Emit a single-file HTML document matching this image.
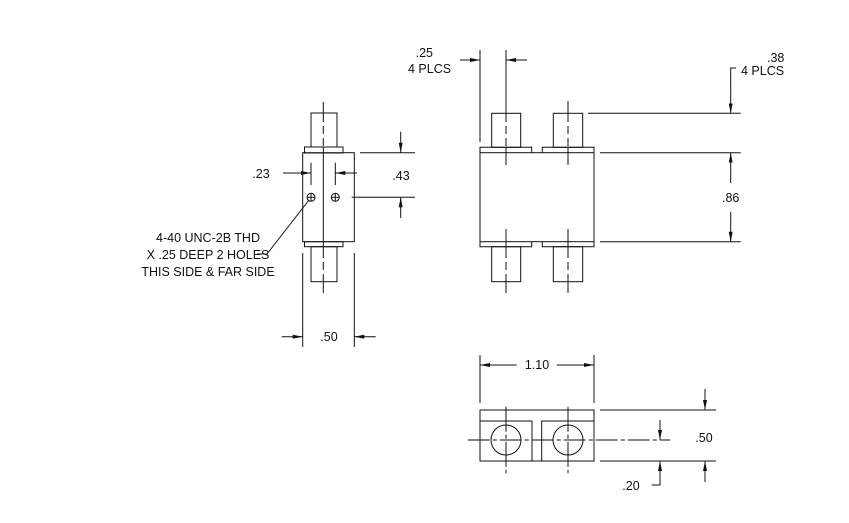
<!DOCTYPE html>
<html><head><meta charset="utf-8"><style>
html,body{margin:0;padding:0;background:#fff;}
svg{display:block}
text{font-family:"Liberation Sans","DejaVu Sans",sans-serif;font-size:12.5px;fill:#111;}
</style></head><body>
<svg width="849" height="523" viewBox="0 0 849 523" xmlns="http://www.w3.org/2000/svg">
<defs>
<marker id="a" viewBox="0 0 10 4" refX="10" refY="2" markerWidth="10" markerHeight="4" markerUnits="userSpaceOnUse" orient="auto"><path d="M0,0 L10,2 L0,4 z" fill="#111"/></marker>
</defs>
<g stroke="#111" stroke-width="1" fill="none">
<!-- LEFT VIEW -->
<rect x="311" y="113" width="26" height="34"/>
<rect x="304.5" y="147" width="38.5" height="6"/>
<rect x="302.7" y="152.7" width="51.6" height="89"/>
<rect x="304.5" y="241.7" width="38.5" height="5"/>
<rect x="311" y="246.7" width="26" height="35"/>
<line x1="323.3" y1="102" x2="323.3" y2="114"/>
<line x1="323.3" y1="114" x2="323.3" y2="147" stroke-dasharray="8,4"/>
<line x1="323.3" y1="147" x2="323.3" y2="250"/>
<line x1="323.3" y1="250" x2="323.3" y2="281" stroke-dasharray="8,4"/>
<line x1="323.3" y1="281" x2="323.3" y2="293"/>
<circle cx="311" cy="197.3" r="4"/><line x1="307" y1="197.3" x2="315" y2="197.3"/><line x1="311" y1="193.3" x2="311" y2="201.3"/>
<circle cx="335.3" cy="197.3" r="4"/><line x1="331.3" y1="197.3" x2="339.3" y2="197.3"/><line x1="335.3" y1="193.3" x2="335.3" y2="201.3"/>
<!-- .23 -->
<line x1="311" y1="162.7" x2="311" y2="185"/>
<line x1="335.3" y1="162.7" x2="335.3" y2="185"/>
<line x1="283" y1="173" x2="311" y2="173" marker-end="url(#a)"/>
<line x1="357" y1="173" x2="335.3" y2="173" marker-end="url(#a)"/>
<!-- .43 -->
<line x1="360" y1="152.7" x2="415" y2="152.7"/>
<line x1="351.7" y1="197.3" x2="415" y2="197.3"/>
<line x1="400.7" y1="131.7" x2="400.7" y2="152.7" marker-end="url(#a)"/>
<line x1="400.7" y1="218" x2="400.7" y2="197.3" marker-end="url(#a)"/>
<!-- .50 -->
<line x1="302.7" y1="253" x2="302.7" y2="347"/>
<line x1="354.3" y1="253" x2="354.3" y2="347"/>
<line x1="281.7" y1="336.7" x2="302.7" y2="336.7" marker-end="url(#a)"/>
<line x1="375.7" y1="336.7" x2="354.3" y2="336.7" marker-end="url(#a)"/>
<!-- leader -->
<polyline points="257,254 267,254 309,200"/>

<!-- FRONT VIEW -->
<rect x="480" y="152.7" width="114" height="89"/>
<polyline points="480,152.7 480,147.3 531.7,147.3 531.7,152.7"/>
<polyline points="542.3,152.7 542.3,147.3 594,147.3 594,152.7"/>
<polyline points="480,241.7 480,246.7 531.7,246.7 531.7,241.7"/>
<polyline points="542.3,241.7 542.3,246.7 594,246.7 594,241.7"/>
<rect x="491.7" y="113.3" width="29" height="34"/>
<rect x="553.3" y="113.3" width="29.4" height="34"/>
<rect x="491.7" y="246.7" width="29" height="35"/>
<rect x="553.3" y="246.7" width="29.4" height="35"/>
<line x1="506" y1="50" x2="506" y2="114"/>
<line x1="506" y1="114" x2="506" y2="147" stroke-dasharray="8,4"/>
<line x1="506" y1="147" x2="506" y2="165"/>
<line x1="506" y1="229" x2="506" y2="250"/>
<line x1="506" y1="250" x2="506" y2="281" stroke-dasharray="8,4"/>
<line x1="506" y1="281" x2="506" y2="293"/>
<line x1="568" y1="101" x2="568" y2="114"/>
<line x1="568" y1="114" x2="568" y2="147" stroke-dasharray="8,4"/>
<line x1="568" y1="147" x2="568" y2="165"/>
<line x1="568" y1="229" x2="568" y2="250"/>
<line x1="568" y1="250" x2="568" y2="281" stroke-dasharray="8,4"/>
<line x1="568" y1="281" x2="568" y2="293"/>
<!-- .25 -->
<line x1="480" y1="50" x2="480" y2="142"/>
<line x1="460" y1="60" x2="480" y2="60" marker-end="url(#a)"/>
<line x1="527" y1="60" x2="506" y2="60" marker-end="url(#a)"/>
<!-- .38 / .86 -->
<line x1="588" y1="113.3" x2="740.7" y2="113.3"/>
<line x1="600" y1="152.7" x2="740.7" y2="152.7"/>
<line x1="600" y1="241.7" x2="740.7" y2="241.7"/>
<polyline points="736,68 730.7,68 730.7,85"/>
<line x1="730.7" y1="85" x2="730.7" y2="113.3" marker-end="url(#a)"/>
<line x1="730.7" y1="183" x2="730.7" y2="152.7" marker-end="url(#a)"/>
<line x1="730.7" y1="212" x2="730.7" y2="241.7" marker-end="url(#a)"/>

<!-- BOTTOM VIEW -->
<rect x="480" y="410" width="114" height="51"/>
<polyline points="480,421 532,421 532,461"/>
<polyline points="541.7,461 541.7,421 594,421"/>
<circle cx="506" cy="440" r="15"/>
<circle cx="568" cy="440" r="15"/>
<line x1="467.7" y1="440" x2="670" y2="440" stroke-dasharray="22,3,4,3"/>
<line x1="506" y1="406.7" x2="506" y2="473.3" stroke-dasharray="25,3,4,3"/>
<line x1="568" y1="406.7" x2="568" y2="473.3" stroke-dasharray="25,3,4,3"/>
<!-- 1.10 -->
<line x1="480" y1="355" x2="480" y2="403"/>
<line x1="594" y1="355" x2="594" y2="403"/>
<line x1="516.7" y1="365" x2="480" y2="365" marker-end="url(#a)"/>
<line x1="556.7" y1="365" x2="594" y2="365" marker-end="url(#a)"/>
<!-- .50 -->
<line x1="600" y1="410" x2="716" y2="410"/>
<line x1="600" y1="461" x2="716" y2="461"/>
<line x1="705" y1="389" x2="705" y2="410" marker-end="url(#a)"/>
<line x1="705" y1="482" x2="705" y2="461" marker-end="url(#a)"/>
<!-- .20 -->
<line x1="660" y1="420" x2="660" y2="440" marker-end="url(#a)"/>
<polyline points="651.7,485 660,485 660,470"/>
<line x1="660" y1="470" x2="660" y2="461" marker-end="url(#a)"/>
</g>
<g>
<text x="261" y="178" text-anchor="middle">.23</text>
<text x="401" y="180" text-anchor="middle">.43</text>
<text x="329" y="341" text-anchor="middle">.50</text>
<text x="208" y="242" text-anchor="middle">4-40 UNC-2B THD</text>
<text x="208" y="259" text-anchor="middle">X .25 DEEP 2 HOLES</text>
<text x="208" y="276" text-anchor="middle">THIS SIDE &amp; FAR SIDE</text>
<text x="433" y="57" text-anchor="end">.25</text>
<text x="408" y="73">4  PLCS</text>
<text x="767" y="62">.38</text>
<text x="741" y="75">4  PLCS</text>
<text x="730.7" y="202" text-anchor="middle">.86</text>
<text x="537" y="369" text-anchor="middle">1.10</text>
<text x="704" y="442" text-anchor="middle">.50</text>
<text x="631" y="490" text-anchor="middle">.20</text>
</g>
</svg>
</body></html>
